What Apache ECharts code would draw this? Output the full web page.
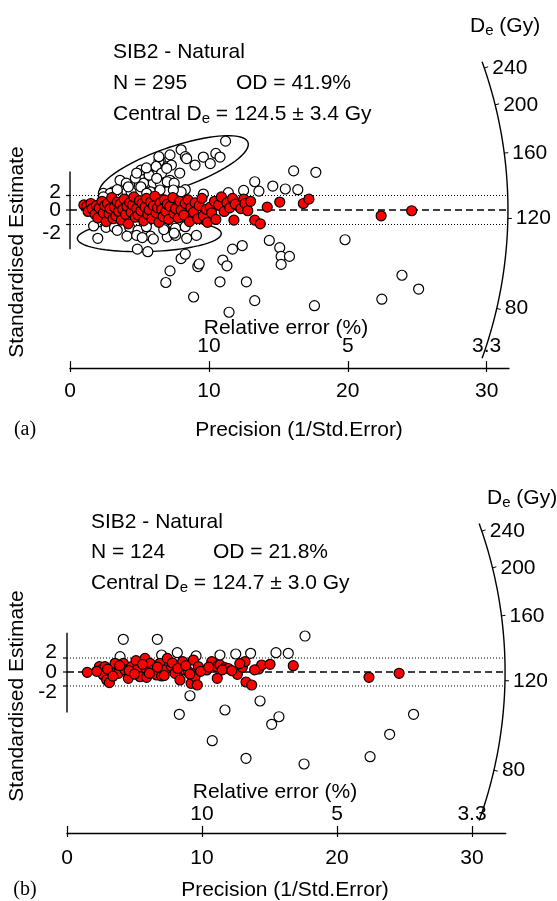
<!DOCTYPE html>
<html>
<head>
<meta charset="UTF-8">
<title>Radial plots SIB2 - Natural</title>
<script src="https://cdn.jsdelivr.net/npm/echarts@6/dist/echarts.min.js"></script>
<style>
  html, body { margin: 0; padding: 0; background: #fff; }
  #chart { width: 557px; height: 901px; }
</style>
</head>
<body>
<div id="chart"></div>
<script>
// ---- data: [precision, standardised estimate] ----
var openA = [
  [11.2,9.5],[8.0,8.3],[7.2,7.6],[9.6,7.3],[10.5,7.8],[10.8,7.3],[10.1,6.4],[9.0,6.2],
  [7.9,5.1],[7.0,6.0],[6.5,6.8],[6.2,5.5],[5.6,5.1],[5.0,4.6],[4.3,3.5],[4.1,2.5],
  [3.1,2.5],[2.6,2.1],[5.3,3.7],[6.0,3.7],[6.5,3.7],[7.2,4.1],[7.6,2.8],[8.3,2.8],
  [7.0,2.5],[5.8,2.5],[4.4,2.5],[6.4,6.7],[5.1,5.5],[5.7,4.8],[2.4,2.3],[3.6,4.1],
  [4.7,4.4],[2.9,2.3],[3.4,2.8],[4.05,3.7],[4.8,5.1],[5.5,5.8],[6.2,6.0],[6.6,5.1],
  [7.3,6.2],[7.0,3.9],[5.1,3.2],[6.4,7.35],[8.3,7.35],[7.5,3.7],[8.0,2.5],
  [2.4,1.8],[4.2,3.2],[6.24,4.37],[6.96,5.75],[8.4,7.1],[5.52,2.3],[6.48,2.76],[7.44,2.76],
  [13.3,3.9],[13.6,2.6],[14.6,3.3],[15.5,2.9],[16.4,2.8],[16.1,5.4],[17.7,5.2],
  [12.5,2.7],[11.4,2.4],[9.6,2.2],
  [2.0,-3.9],[1.7,-2.2],[2.6,-2.4],[3.2,-2.4],[4.3,-2.4],[4.9,-2.8],[4.1,-3.6],[4.8,-3.5],
  [5.8,-3.6],[5.5,-2.3],[6.8,-2.5],[7.6,-2.5],[8.3,-2.3],[7.0,-3.7],[7.6,-3.5],[8.4,-3.9],
  [9.1,-3.5],[4.85,-5.4],[5.6,-5.75],[3.4,-2.8],[6.75,-2.7],[6.0,-4.0],[5.2,-3.8],[7.5,-3.2],
  [7.2,-8.4],[6.9,-10.0],[8.0,-6.7],[8.3,-6.1],[9.2,-7.8],[9.3,-7.45],[8.9,-12.0],[10.8,-9.9],
  [11.0,-6.9],[11.3,-7.7],[11.7,-5.4],[12.4,-4.9],[11.45,-14.1],[12.7,-9.9],[13.3,-12.5],
  [14.35,-4.2],[15.1,-5.2],[15.2,-6.4],[15.8,-6.4],[15.2,-7.5],[17.6,-13.2],[19.8,-4.1],
  [23.9,-9.0],[25.1,-10.9],[22.45,-12.3]
];
var redA = [
  [1.0,0.7],[1.2,0.5],[1.3,-0.2],[1.5,0.9],[1.6,0.2],[1.8,-0.6],[1.9,0.6],[2.0,-1.1],[2.1,0.3],
  [2.3,1.2],[2.4,-0.4],[2.5,0.6],[2.6,-1.6],[2.7,0.9],[2.8,-0.5],[2.9,0.2],[3.0,1.7],[3.1,-1.2],
  [3.2,0.4],[3.3,-0.8],[3.4,1.1],[3.5,-0.2],[3.6,0.8],[3.7,-1.4],[3.8,0.1],[3.9,1.5],[4.0,-0.6],
  [4.1,0.5],[4.2,-1.9],[4.3,1.0],[4.4,-0.3],[4.5,0.7],[4.6,1.8],[4.7,-1.0],[4.8,0.2],[4.9,-0.7],[5.0,1.3],
  [5.1,-0.1],[5.2,0.9],[5.3,-1.5],[5.4,0.4],[5.5,1.6],[5.6,-0.6],[5.7,0.0],[5.8,1.1],[5.9,-1.2],[6.0,0.6],
  [6.1,1.9],[6.2,-0.4],[6.3,0.3],[6.4,-1.7],[6.5,1.0],[6.6,0.1],[6.7,-0.9],[6.8,1.4],[6.9,-0.2],[7.0,0.8],
  [7.1,-1.3],[7.2,0.5],[7.4,1.7],[7.5,-0.5],[7.6,0.2],[7.8,-1.1],[7.9,1.2],[8.0,0.0],
  [8.2,-0.7],[8.3,0.9],[8.5,1.4],[8.6,-1.6],[8.7,0.3],[8.9,-0.3],[9.0,1.0],
  [9.2,-1.2],[9.3,0.6],[9.5,1.6],[9.6,-0.8],[9.8,0.1],[9.9,-1.7],
  [10.1,0.4],[10.2,-0.4],[10.4,1.2],[10.5,-1.3],[10.7,0.7],[10.9,1.8],
  [11.1,-0.2],[11.3,1.0],[11.5,0.3],[11.7,1.6],[11.8,-1.4],[11.9,0.8],
  [12.3,0.2],[12.5,1.5],[12.6,0.9],[12.8,-0.1],[13.0,1.2],[13.3,-1.4],[13.7,-1.9],[14.2,0.4],
  [15.1,1.1],[16.8,0.9],[17.2,1.5],[22.4,-0.8],[24.6,-0.1]
];
var openB = [
  [4.17,4.67],[6.69,4.67],[17.63,5.14],[3.93,2.19],[7.01,2.43],[8.17,2.76],[9.56,2.29],
  [11.33,2.43],[12.5,2.57],[13.6,2.67],[15.48,2.76],[16.39,2.67],[9.11,-3.39],[8.32,-6.04],
  [11.7,-5.43],[14.3,-4.14],[15.16,-7.47],[15.7,-6.39],[10.76,-9.81],[13.26,-12.33],
  [17.56,-13.14],[22.45,-12.1],[23.9,-8.9],[25.67,-6.04]
];
var redB = [
  [1.5,-0.05],[2.4,0.76],[2.57,0.38],[2.69,-0.43],[2.94,-1.14],[3.14,-1.52],[2.81,0.76],
  [3.31,0.29],[3.56,1.24],[3.8,-0.19],[4.17,1.24],[4.3,0.29],[4.54,-0.9],[4.79,0.76],
  [5.11,1.62],[5.16,0.29],[5.41,-0.67],[5.78,1.95],[5.85,0.52],[5.9,-0.76],[6.15,1.24],
  [6.4,0.29],[6.64,-0.43],[6.89,1.24],[7.01,-0.57],[7.26,0.29],[7.43,1.95],[7.75,0.76],
  [8.0,-0.19],[8.37,-1.14],[8.57,1.48],[8.67,0.29],[8.99,0.05],[9.19,-1.62],[9.36,1.71],
  [9.48,-0.67],[9.65,-1.86],[9.73,0.76],[10.35,0.29],[10.72,1.48],[11.09,0.76],[11.13,-0.9],
  [11.33,1.0],[11.7,0.62],[11.95,0.5],[12.62,-0.33],[12.99,0.67],[13.19,1.48],[13.26,-1.43],
  [13.68,-1.86],[14.2,0.43],[14.42,1.0],[15.04,1.1],[16.76,0.9],[22.37,-0.76],[24.6,-0.19],
  [2.2,0.1],[3.0,0.4],[3.4,-0.6],[3.9,0.9],[4.6,0.2],[5.0,-0.3],[5.6,1.1],[6.1,-0.2],
  [6.7,0.7],[7.2,-0.5],[7.8,1.3],[8.2,0.5],[8.8,0.9],[9.1,-0.3],[9.9,0.1],[10.5,0.7],
  [11.5,0.3],[12.2,0.2],[12.8,1.2],[13.9,0.3]
];
var deTicks = [80, 120, 160, 200, 240];      // radial De axis (Gy)
var precTicks = [0, 10, 20, 30];             // precision axis
var relTicks = [10, 20, 30];                 // where relative error labels sit
var zTicks = [-2, 0, 2];                     // standardised estimate axis
var statsA = { n: 295, od: '41.9%', de: 124.5, err: '3.4' };
var statsB = { n: 124, od: '21.8%', de: 124.7, err: '3.0' };

var FONT = '"Liberation Sans", Arial, Helvetica, sans-serif';
var FS = 21;

// layout of the two panels (pixels / axis units)
var panels = [
  { stats: statsA, open: openA, red: redA, tag: '(a)',
    left: 70, sx: 13.89, xMax: 31.6, y0: 210, sy: 7.25, yMax: 21, yMin: -21.8,
    arcR: 31.53, arcSpan: 19.8, ySeg: [-5.4, 5.3], loM: 13, upM: 11,
    zShift: { '2': -3, '0': 0, '-2': 8.5 }, zGap: 9,
    ellipses: [{ cx: 7.47, cy: 5.79, rx: 78.5, ry: 21, rot: 19 },
               { cx: 5.71, cy: -3.59, rx: 72, ry: 15.5, rot: 2 }],
    txt: { x: 113, t: 52, n: 83, c: 114, od: 236, deX: 470, deY: 26, stY: 252,
           relX: 286, relY: 328, preX: 299, preY: 430 } },
  { stats: statsB, open: openB, red: redB, tag: '(b)',
    left: 67, sx: 13.5, xMax: 32.5, y0: 672, sy: 7, yMax: 20, yMin: -23,
    arcR: 32.45, arcSpan: 19.8, ySeg: [-5.8, 5.6], loM: 15, upM: 8,
    zShift: { '2': -6, '0': 0, '-2': 6 }, zGap: 10,
    ellipses: [],
    txt: { x: 91, t: 522, n: 552, c: 583, od: 213, deX: 487, deY: 498, stY: 696,
           relX: 275, relY: 792, preX: 285, preY: 890 } }
];

function decoRenderer(p) {
  return function (params, api) {
    var c = api.coord([0, 0]);
    var R = api.coord([p.arcR, 0])[0] - c[0];
    var kids = [];
    var pts = [];
    var span = p.arcSpan * Math.PI / 180;
    for (var i = 0; i <= 80; i++) {
      var t = -span + 2 * span * i / 80;
      pts.push([c[0] + R * Math.cos(t), c[1] - R * Math.sin(t)]);
    }
    kids.push({ type: 'polyline', shape: { points: pts },
      style: { stroke: '#000', lineWidth: 1.4, fill: null } });
    deTicks.forEach(function (v) {
      var q = api.coord([1, Math.log(v / p.stats.de)]);
      var dx = q[0] - c[0], dy = q[1] - c[1], L = Math.sqrt(dx * dx + dy * dy);
      dx /= L; dy /= L;
      var x0 = c[0] + R * dx, y0 = c[1] + R * dy;
      kids.push({ type: 'line', shape: { x1: x0, y1: y0, x2: x0 + 4 * dx, y2: y0 + 4 * dy },
        style: { stroke: '#000', lineWidth: 1 } });
      kids.push({ type: 'text', x: x0 + 8, y: y0,
        style: { text: String(v), fill: '#000', fontSize: FS, fontFamily: FONT,
                 align: 'left', verticalAlign: 'middle' } });
    });
    // short standardised-estimate axis with its ticks and labels
    var a = api.coord([0, p.ySeg[1]]), b = api.coord([0, p.ySeg[0]]);
    kids.push({ type: 'line', shape: { x1: a[0], y1: a[1], x2: b[0], y2: b[1] },
      style: { stroke: '#000', lineWidth: 1.4 } });
    zTicks.forEach(function (v) {
      var q = api.coord([0, v]);
      kids.push({ type: 'line', shape: { x1: q[0] - 4, y1: q[1], x2: q[0], y2: q[1] },
        style: { stroke: '#000', lineWidth: 1.2 } });
      kids.push({ type: 'text', x: q[0] - p.zGap, y: q[1] + p.zShift[String(v)],
        style: { text: String(v), fill: '#000', fontSize: FS, fontFamily: FONT,
                 align: 'right', verticalAlign: 'middle' } });
    });
    p.ellipses.forEach(function (e) {
      var ec = api.coord([e.cx, e.cy]);
      var r = e.rot * Math.PI / 180, ep = [];
      for (var k = 0; k < 90; k++) {
        var u = 2 * Math.PI * k / 90;
        var ex = e.rx * Math.cos(u), ey = e.ry * Math.sin(u);
        ep.push([ec[0] + ex * Math.cos(r) + ey * Math.sin(r),
                 ec[1] - ex * Math.sin(r) + ey * Math.cos(r)]);
      }
      kids.push({ type: 'polygon', shape: { points: ep },
        style: { stroke: '#000', lineWidth: 1.4, fill: null } });
    });
    return { type: 'group', children: kids };
  };
}

var grids = [], xAxes = [], yAxes = [], series = [], graphic = [];
panels.forEach(function (p, i) {
  grids.push({ left: p.left, top: p.y0 - p.yMax * p.sy,
    width: p.xMax * p.sx, height: (p.yMax - p.yMin) * p.sy });
  var xa = xAxes.length;
  xAxes.push({ gridIndex: i, type: 'value', min: 0, max: p.xMax, position: 'bottom',
    axisLine: { onZero: false, lineStyle: { color: '#000', width: 1.4 } },
    axisTick: { inside: true, length: 7, customValues: precTicks, lineStyle: { color: '#000', width: 1.2 } },
    axisLabel: { customValues: precTicks, margin: p.loM, color: '#000', fontSize: FS, fontFamily: FONT },
    splitLine: { show: false } });
  xAxes.push({ gridIndex: i, type: 'value', min: 0, max: p.xMax, position: 'bottom',
    axisLine: { show: false, onZero: false },
    axisTick: { length: 4, customValues: precTicks, lineStyle: { color: '#000', width: 1.2 } },
    axisLabel: { inside: true, customValues: relTicks, margin: p.upM, color: '#000',
      fontSize: FS, fontFamily: FONT,
      formatter: function (v) { return String(Math.round(1000 / v) / 10); } },
    splitLine: { show: false } });
  yAxes.push({ gridIndex: i, type: 'value', min: p.yMin, max: p.yMax,
    axisLine: { show: false }, splitLine: { show: false },
    axisTick: { show: false }, axisLabel: { show: false } });

  var ax = { xAxisIndex: xa, yAxisIndex: i };
  function refLine(y, dash, w) {
    return Object.assign({ type: 'line', data: [[0, y], [p.arcR - 0.1, y]], symbol: 'none',
      silent: true, z: 1, lineStyle: { color: '#000', width: w, type: dash } }, ax);
  }
  series.push(refLine(2, [1, 2], 1));
  series.push(refLine(-2, [1, 2], 1));
  series.push(refLine(0, [7, 4], 1.6));
  series.push(Object.assign({ type: 'custom', data: [[0, 0]], silent: true, clip: false, z: 2,
    renderItem: decoRenderer(p) }, ax));
  series.push(Object.assign({ type: 'scatter', data: p.open, symbolSize: 10, z: 3, silent: true,
    itemStyle: { color: '#fff', borderColor: '#000', borderWidth: 1.2, opacity: 1 } }, ax));
  series.push(Object.assign({ type: 'scatter', data: p.red, symbolSize: 10, z: 4, silent: true,
    itemStyle: { color: '#f00', borderColor: '#000', borderWidth: 1.2, opacity: 1 } }, ax));

  var t = p.txt, s = p.stats;
  var base = { fill: '#000', fontSize: FS, fontFamily: FONT, verticalAlign: 'middle' };
  var rich = { n: { fontSize: FS, fontFamily: FONT, fill: '#000' },
               s: { fontSize: 15, fontFamily: FONT, fill: '#000', padding: [10, 0, 0, 0] } };
  function txt(x, y, text, extra) {
    return { type: 'text', x: x, y: y, silent: true,
      style: Object.assign({}, base, { text: text }, extra || {}) };
  }
  graphic.push(txt(t.x, t.t, 'SIB2 - Natural'));
  graphic.push(txt(t.x, t.n, 'N = ' + s.n));
  graphic.push(txt(t.od, t.n, 'OD = ' + s.od));
  graphic.push(txt(t.x, t.c, '{n|Central D}{s|e}{n| = ' + s.de.toFixed(1) + ' \u00b1 ' + s.err + ' Gy}',
    { rich: rich }));
  graphic.push(txt(t.deX, t.deY, '{n|D}{s|e}{n| (Gy)}', { rich: rich }));
  graphic.push(Object.assign(txt(17, t.stY, 'Standardised Estimate', { align: 'center' }),
    { rotation: Math.PI / 2 }));
  graphic.push(txt(t.relX, t.relY, 'Relative error (%)', { align: 'center' }));
  graphic.push(txt(t.preX, t.preY, 'Precision (1/Std.Error)', { align: 'center' }));
  graphic.push(txt(25, t.preY, p.tag, { align: 'center', fontFamily: '"Liberation Serif", "Times New Roman", serif', fontSize: 20 }));
});

var chart = echarts.init(document.getElementById('chart'), null, { renderer: 'canvas' });
chart.setOption({
  animation: false,
  backgroundColor: '#fff',
  grid: grids,
  xAxis: xAxes,
  yAxis: yAxes,
  series: series,
  graphic: graphic
});
</script>
</body>
</html>
